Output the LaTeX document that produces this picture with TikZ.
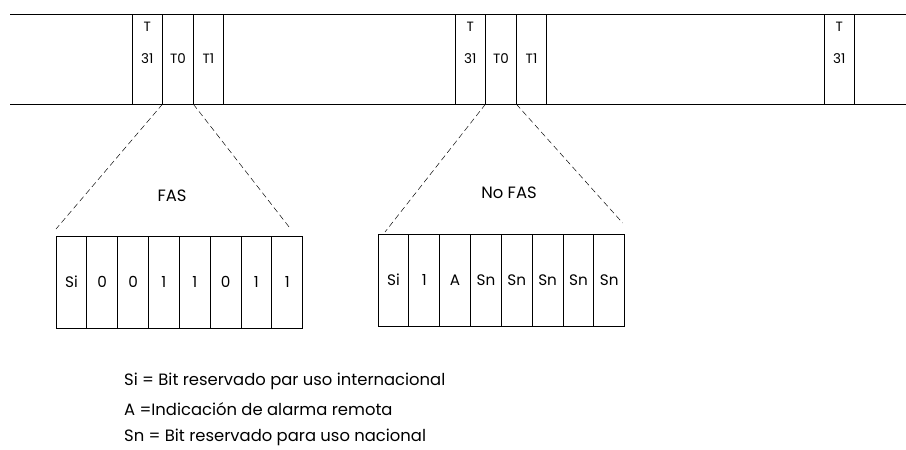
\documentclass[tikz,border=0pt]{standalone}
\usepackage{fontspec}
\setmainfont{Poppins}
\usetikzlibrary{positioning, calc}

\begin{document}
\begin{tikzpicture}[x=0.03cm, y=-0.03cm,
    slot/.style={draw, thick, minimum width=0.918cm, minimum height=2.7cm, inner sep=0pt, outer sep=0pt, font=\fontsize{11.5}{13}\selectfont},
    bitcell/.style={draw, thick, minimum width=0.925cm, minimum height=2.76cm, inner sep=0pt, outer sep=0pt, font=\fontsize{13}{15}\selectfont},
    zoomline/.style={thin, dash pattern=on 5pt off 3pt}]
    \useasboundingbox (0,0) rectangle (906,449);
    % Frame stream
    \draw[thick] (10,14) -- (906,14);
    \draw[thick] (10,104) -- (906,104);
    % First frame boundary
    \node[slot, anchor=north west, label={[anchor=north, yshift=-3pt, font=\fontsize{11.5}{13}\selectfont]north:T}] (t31a) at (132,14) {31};
    \node[slot, right=0pt of t31a] (t0a) {T0};
    \node[slot, right=0pt of t0a] (t1a) {T1};
    % Second frame boundary
    \node[slot, anchor=north west, label={[anchor=north, yshift=-3pt, font=\fontsize{11.5}{13}\selectfont]north:T}] (t31b) at (455,14) {31};
    \node[slot, right=0pt of t31b] (t0b) {T0};
    \node[slot, right=0pt of t0b] (t1b) {T1};
    % Third frame boundary
    \node[slot, anchor=north west, label={[anchor=north, yshift=-3pt, font=\fontsize{11.5}{13}\selectfont]north:T}] (t31c) at (824,14) {31};

    % FAS word
    \node[bitcell, anchor=north west] (fas1) at (56,236) {Si};
    \node[bitcell, right=0pt of fas1] (fas2) {0};
    \node[bitcell, right=0pt of fas2] (fas3) {0};
    \node[bitcell, right=0pt of fas3] (fas4) {1};
    \node[bitcell, right=0pt of fas4] (fas5) {1};
    \node[bitcell, right=0pt of fas5] (fas6) {0};
    \node[bitcell, right=0pt of fas6] (fas7) {1};
    \node[bitcell, right=0pt of fas7] (fas8) {1};
    \node[font=\fontsize{14}{16}\selectfont] (fas) at (172,196) {FAS};

    % No FAS word
    \node[bitcell, anchor=north west] (nf1) at (378,234) {Si};
    \node[bitcell, right=0pt of nf1] (nf2) {1};
    \node[bitcell, right=0pt of nf2] (nf3) {A};
    \node[bitcell, right=0pt of nf3] (nf4) {Sn};
    \node[bitcell, right=0pt of nf4] (nf5) {Sn};
    \node[bitcell, right=0pt of nf5] (nf6) {Sn};
    \node[bitcell, right=0pt of nf6] (nf7) {Sn};
    \node[bitcell, right=0pt of nf7] (nf8) {Sn};
    \node[font=\fontsize{14}{16}\selectfont] (nofas) at (509,193) {No FAS};

    % Zoom lines
    \draw[zoomline] (t0a.south west) -- ($(fas1.north west)+(0,-7)$);
    \draw[zoomline] (t0a.south east) -- ($(fas8.north east)+(-12,-7)$);
    \draw[zoomline] (t0b.south west) -- ($(nf1.north west)+(7,-2)$);
    \draw[zoomline] (t0b.south east) -- ($(nf8.north east)+(-2,-11)$);

    % Legend
    \node[anchor=west, font=\fontsize{14}{16}\selectfont] (keysi) at (120,381) {Si = Bit reservado par uso internacional};
    \node[anchor=west, font=\fontsize{14}{16}\selectfont] (keya) at (120,409) {A =Indicación de alarma remota};
    \node[anchor=west, font=\fontsize{14}{16}\selectfont] (keysn) at (120,437) {Sn = Bit reservado para uso nacional};
\end{tikzpicture}
\end{document}
